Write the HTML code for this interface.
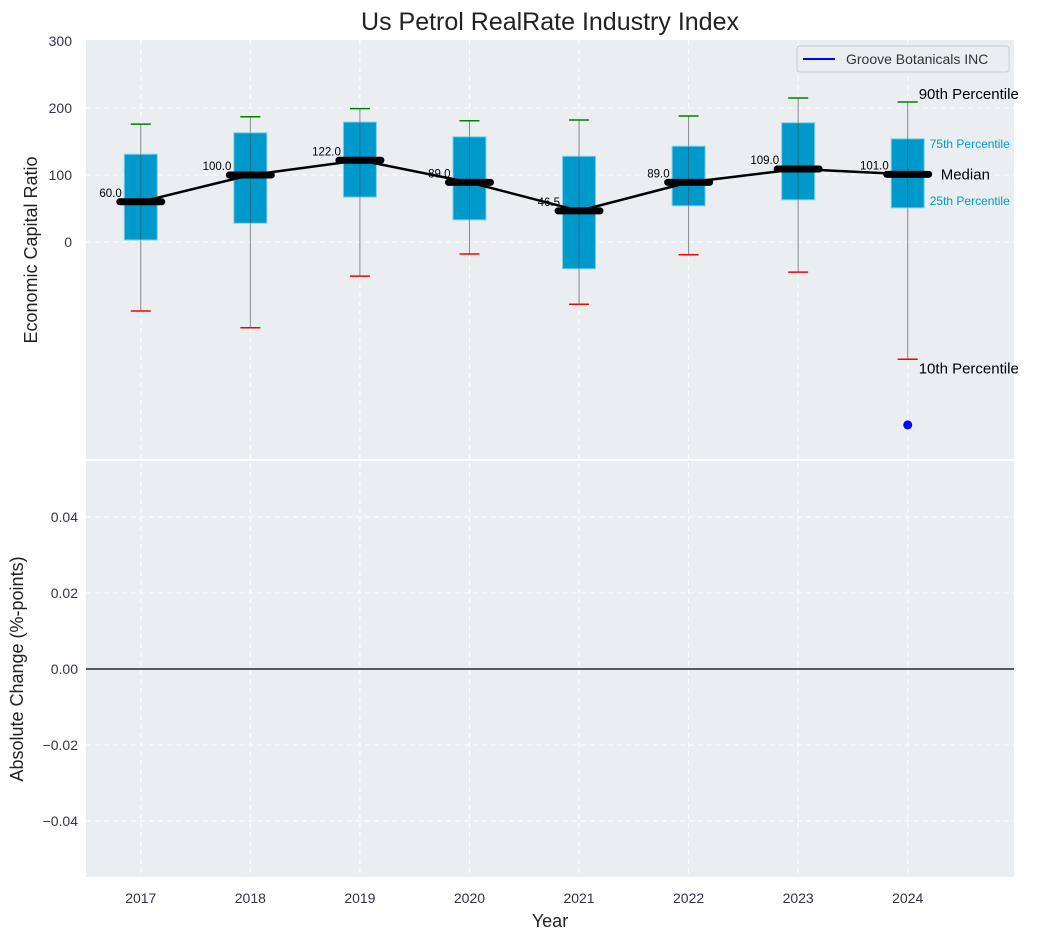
<!DOCTYPE html>
<html><head><meta charset="utf-8"><style>
body{margin:0;background:#fff;}
svg{font-family:"Liberation Sans",sans-serif;}
</style></head><body>
<svg id="c" width="1039" height="940" viewBox="0 0 1039 940">
<rect x="0" y="0" width="1039" height="940" fill="#fff"/>
<text x="550" y="30" text-anchor="middle" font-size="25" fill="#222">Us Petrol RealRate Industry Index</text>
<rect x="86" y="40" width="928" height="419" fill="#eaeef0"/>
<rect x="86" y="461" width="928" height="416" fill="#eaeef0"/>
<g id="grid"></g><g id="marks"></g><g id="axes"></g>
<text transform="translate(37,250) rotate(-90)" text-anchor="middle" font-size="18" fill="#222">Economic Capital Ratio</text>
<text transform="translate(23,669) rotate(-90)" text-anchor="middle" font-size="18" fill="#222">Absolute Change (%-points)</text>
<text x="550" y="927" text-anchor="middle" font-size="18" fill="#222">Year</text>
<g>
<rect x="797" y="46" width="212" height="26" rx="3" fill="#eaeef0" stroke="#ccc"/>
<line x1="803" y1="59" x2="835" y2="59" stroke="#0000ff" stroke-width="2"/>
<text x="846" y="64" font-size="14" fill="#333">Groove Botanicals INC</text>
</g>
</svg>
<script>
const years=[2017,2018,2019,2020,2021,2022,2023,2024];
const p10=[-103,-128,-51,-18,-93,-19,-45,-175];
const p25=[3,28,67,33,-40,54,63,51];
const medians=[60,100,122,89,46.5,89,109,101];
const p75=[131,163,179,157,128,143,178,154];
const p90=[176,187,199,181,182,188,215,209];
const companyYears=[2024];
const companyValues=[-273];
const topTicks=[0,100,200,300];
const bottomTicks=[-0.04,-0.02,0,0.02,0.04];

const NS="http://www.w3.org/2000/svg";
const X=v=>86+(v-2016.5)*(928/8.47);
const Y=v=>242-v*0.67;
const Y2=v=>669-v*3800;
function mk(tag,attrs,parent,txt){const e=document.createElementNS(NS,tag);for(const k in attrs)e.setAttribute(k,attrs[k]);if(txt!==undefined)e.textContent=txt;document.getElementById(parent).appendChild(e);return e;}

topTicks.forEach(t=>{
 if(t<300){const g=mk('line',{x1:86,x2:1014,y1:Y(t),y2:Y(t),stroke:'#fff','stroke-dasharray':'5,4','stroke-width':1},'grid');
 
 }
 const l=mk('text',{x:72,y:Y(t)+5,'text-anchor':'end','font-size':14,fill:'#334'},'axes',String(t));
 
 
});
bottomTicks.forEach(t=>{
 const g=mk('line',{x1:86,x2:1014,y1:Y2(t),y2:Y2(t),stroke:'#fff','stroke-dasharray':'5,4','stroke-width':1},'grid');
 
 
 const l=mk('text',{x:78,y:Y2(t)+5,'text-anchor':'end','font-size':14,fill:'#334'},'axes',t===0?'0.00':(t<0?'\u2212':'')+Math.abs(t).toFixed(2));
 
 
});
years.forEach(y=>{
 const g=mk('line',{x1:X(y),x2:X(y),y1:40,y2:877,stroke:'#fff','stroke-dasharray':'5,4','stroke-width':1},'grid');
 
 
 const l=mk('text',{x:X(y),y:903,'text-anchor':'middle','font-size':14,fill:'#334'},'axes',String(y));
 
 
});
const sep=mk('line',{x1:86,x2:1014,y1:460,y2:460,stroke:'#fff','stroke-width':2},'axes');


const zl=mk('line',{x1:86,x2:1014,y1:Y2(0),y2:Y2(0),stroke:'#000','stroke-width':1.2},'marks');



years.forEach((y,i)=>{
 const cx=X(y);
 const w=mk('line',{x1:cx,x2:cx,y1:Y(p10[i]),y2:Y(p90[i]),stroke:'#888','stroke-width':1},'marks');
 
 
 const b=mk('rect',{x:cx-16.5,y:Y(p75[i]),width:33,height:Y(p25[i])-Y(p75[i]),fill:'#0099cc',stroke:'#7fd0ea','stroke-width':1},'marks');
 
 
 const w2=mk('line',{x1:cx,x2:cx,y1:Y(p75[i]),y2:Y(p25[i]),stroke:'#444','stroke-opacity':0.5,'stroke-width':1},'marks');
 
 
 const c1=mk('line',{x1:cx-10,x2:cx+10,y1:Y(p90[i]),y2:Y(p90[i]),stroke:'green','stroke-width':1.5},'marks');
 
 
 const c2=mk('line',{x1:cx-10,x2:cx+10,y1:Y(p10[i]),y2:Y(p10[i]),stroke:'red','stroke-width':1.5},'marks');
 
 
});
const pts=years.map((y,i)=>X(y)+','+Y(medians[i])).join(' ');
const ml=mk('polyline',{points:pts,fill:'none',stroke:'#000','stroke-width':2.5},'marks');


years.forEach((y,i)=>{
 const cx=X(y);
 const m=mk('line',{x1:cx-21,x2:cx+21,y1:Y(medians[i]),y2:Y(medians[i]),stroke:'#000','stroke-width':7,'stroke-linecap':'round'},'marks');
 
 
 const t=mk('text',{x:cx-19,y:Y(medians[i])-5,'text-anchor':'end','font-size':11.5,fill:'#000'},'marks',medians[i].toFixed(1));
 
 
});
companyYears.forEach((y,i)=>{
 const d=mk('circle',{cx:X(y),cy:Y(companyValues[i]),r:4.5,fill:'#0000ff'},'marks');
 
 
});
const L=years.length-1, lx=X(years[L]);
const anns=[['90th Percentile',lx+11,Y(p90[L])-3,15,'#000','p90-annotation'],
 ['75th Percentile',lx+22,Y(p75[L])+9,12,'#0099cc','p75-annotation'],
 ['Median',lx+33,Y(medians[L])+5,15,'#000','median-annotation'],
 ['25th Percentile',lx+22,Y(p25[L])-3,12,'#0099cc','p25-annotation'],
 ['10th Percentile',lx+11,Y(p10[L])+14,15,'#000','p10-annotation']];
anns.forEach(a=>{
 const t=mk('text',{x:a[1],y:a[2],'font-size':a[3],fill:a[4]},'marks',a[0]);
 
 
});
</script>
</body></html>
